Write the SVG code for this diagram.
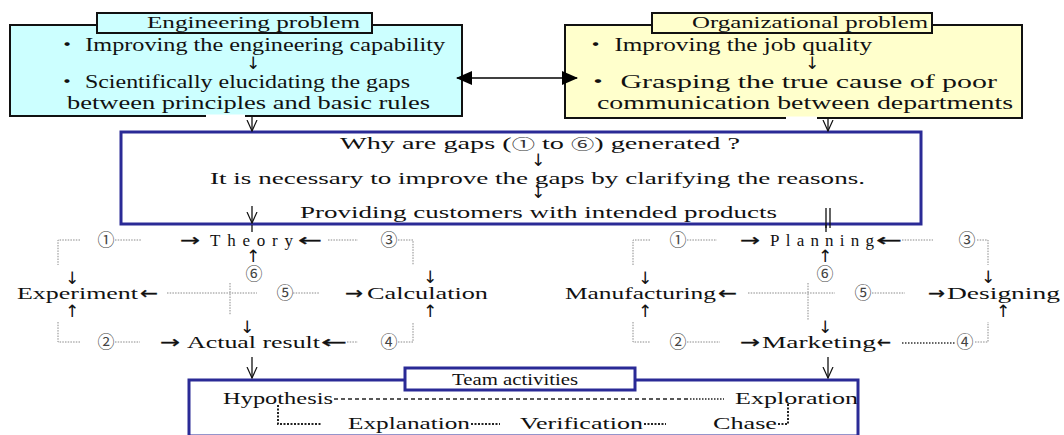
<svg xmlns="http://www.w3.org/2000/svg" width="1064" height="435" viewBox="0 0 1064 435">
<defs>
<style>
.t{font-family:"Liberation Serif","DejaVu Serif","Noto Sans CJK JP",serif;fill:#111}
.b{font-size:18px}
.m{font-size:16px}
.c{font-size:17px}
.n{font-family:"Noto Sans CJK JP","DejaVu Sans",sans-serif;font-size:17px;fill:#444}
.a{font-family:"DejaVu Sans",sans-serif;font-size:17px;fill:#111}
.ah{font-family:"DejaVu Sans",sans-serif;font-size:17px;fill:#111;stroke:#111;stroke-width:0.3}
.dot{fill:none;stroke:#8a8a8a;stroke-width:1;stroke-dasharray:1.5 1.2}
.dk{fill:none;stroke:#222;stroke-width:2;stroke-dasharray:2 1.5}
.ln{fill:none;stroke:#111;stroke-width:1.3}
.blue{fill:#fff;stroke:#2a2a96;stroke-width:3}
</style>
<marker id="ah" markerWidth="16" markerHeight="14" refX="15" refY="7" orient="auto-start-reverse" markerUnits="userSpaceOnUse" viewBox="0 0 16 14">
<path d="M0,0 L16,7 L0,14 z" fill="#000"/>
</marker>
<marker id="vh" markerWidth="12" markerHeight="12" refX="11" refY="6" orient="auto" markerUnits="userSpaceOnUse" viewBox="0 0 12 12">
<path d="M0,1 L11,6 L0,11" fill="none" stroke="#111" stroke-width="1.2"/>
</marker>
</defs>
<rect width="1064" height="435" fill="#fff"/>

<g id="engineering">
<rect x="10" y="25" width="452" height="91" fill="#ccffff" stroke="#111" stroke-width="2"/>
<line x1="206" y1="116" x2="245" y2="116" stroke="#fff" stroke-width="3"/>
<rect x="97" y="13" width="275" height="20" fill="#ccffff" stroke="#111" stroke-width="2"/>
<text class="t m" x="147" y="28" textLength="213" lengthAdjust="spacingAndGlyphs">Engineering problem</text>
<text class="t b" x="55" y="51" textLength="390" lengthAdjust="spacingAndGlyphs">・ Improving the engineering capability</text>
<text class="a" x="253" y="69" text-anchor="middle" font-size="14">↓</text>
<text class="t b" x="55" y="88" textLength="355" lengthAdjust="spacingAndGlyphs">・ Scientifically elucidating the gaps</text>
<text class="t b" x="67" y="109" textLength="363" lengthAdjust="spacingAndGlyphs">between principles and basic rules</text>
</g>

<g id="organizational">
<rect x="565" y="25" width="457" height="93" fill="#ffffcc" stroke="#111" stroke-width="2"/>
<line x1="786" y1="118" x2="817" y2="118" stroke="#fff" stroke-width="3"/>
<rect x="652" y="13" width="280" height="20" fill="#ffffcc" stroke="#111" stroke-width="2"/>
<text class="t m" x="692" y="28" textLength="236" lengthAdjust="spacingAndGlyphs">Organizational problem</text>
<text class="t b" x="583" y="51" textLength="289" lengthAdjust="spacingAndGlyphs">・ Improving the job quality</text>
<text class="a" x="812" y="69" text-anchor="middle" font-size="14">↓</text>
<text class="t b" x="583" y="88" textLength="414" lengthAdjust="spacingAndGlyphs">・ Grasping the true cause of poor</text>
<text class="t b" x="597" y="109" textLength="416" lengthAdjust="spacingAndGlyphs">communication between departments</text>
</g>

<g id="reasons">
<rect class="blue" x="121" y="132" width="800" height="92"/>
<text class="t c" x="340" y="149" textLength="400" lengthAdjust="spacingAndGlyphs">Why are gaps (<tspan font-size="14" fill="#333">①</tspan> to <tspan font-size="14" fill="#333">⑥</tspan>) generated ?</text>
<text class="a" x="538" y="166" text-anchor="middle" font-size="12">↓</text>
<text class="t c" x="210" y="184" textLength="655" lengthAdjust="spacingAndGlyphs">It is necessary to improve the gaps by clarifying the reasons.</text>
<text class="a" x="538" y="198" text-anchor="middle" font-size="12">↓</text>
<text class="t c" x="300" y="218" textLength="477" lengthAdjust="spacingAndGlyphs">Providing customers with intended products</text>
</g>

<g id="cycle-engineering">
<text class="n" x="106" y="246" text-anchor="middle">①</text>
<text class="ah" x="180" y="246" textLength="20" lengthAdjust="spacingAndGlyphs">→</text>
<text class="t c" x="210" y="246" textLength="83" lengthAdjust="spacing">Theory</text>
<text class="ah" x="298" y="246" textLength="24" lengthAdjust="spacingAndGlyphs">←</text>
<text class="n" x="389" y="246" text-anchor="middle">③</text>
<text class="a" x="253" y="262" text-anchor="middle" font-size="15">↑</text>
<text class="n" x="254" y="280" text-anchor="middle" font-size="16">⑥</text>
<text class="a" x="72" y="284" text-anchor="middle">↓</text>
<text class="t c" x="17" y="299" textLength="121" lengthAdjust="spacingAndGlyphs">Experiment</text>
<text class="ah" x="140" y="299" textLength="18" lengthAdjust="spacingAndGlyphs">←</text>
<text class="n" x="285" y="299" text-anchor="middle">⑤</text>
<text class="ah" x="345" y="299" textLength="18" lengthAdjust="spacingAndGlyphs">→</text>
<text class="t c" x="367" y="299" textLength="121" lengthAdjust="spacingAndGlyphs">Calculation</text>
<text class="a" x="430" y="283" text-anchor="middle">↓</text>
<text class="a" x="430" y="317" text-anchor="middle">↑</text>
<text class="a" x="72" y="317" text-anchor="middle">↑</text>
<text class="a" x="247" y="333" text-anchor="middle">↓</text>
<text class="n" x="106" y="348" text-anchor="middle">②</text>
<text class="ah" x="160" y="348" textLength="20" lengthAdjust="spacingAndGlyphs">→</text>
<text class="t c" x="187" y="348" textLength="133" lengthAdjust="spacingAndGlyphs">Actual result</text>
<text class="ah" x="321" y="348" textLength="26" lengthAdjust="spacingAndGlyphs">←</text>
<text class="n" x="389" y="348" text-anchor="middle">④</text>
</g>

<g id="cycle-organizational">
<text class="n" x="678" y="246" text-anchor="middle">①</text>
<text class="ah" x="740" y="246" textLength="20" lengthAdjust="spacingAndGlyphs">→</text>
<text class="t c" x="770" y="246" textLength="104" lengthAdjust="spacing">Planning</text>
<text class="ah" x="876" y="246" textLength="26" lengthAdjust="spacingAndGlyphs">←</text>
<text class="n" x="967" y="246" text-anchor="middle">③</text>
<text class="a" x="825" y="262" text-anchor="middle" font-size="15">↑</text>
<text class="n" x="825" y="280" text-anchor="middle" font-size="16">⑥</text>
<text class="a" x="645" y="284" text-anchor="middle">↓</text>
<text class="t c" x="565" y="299" textLength="151" lengthAdjust="spacingAndGlyphs">Manufacturing</text>
<text class="ah" x="718" y="299" textLength="19" lengthAdjust="spacingAndGlyphs">←</text>
<text class="n" x="863" y="299" text-anchor="middle">⑤</text>
<text class="ah" x="928" y="299" textLength="17" lengthAdjust="spacingAndGlyphs">→</text>
<text class="t c" x="947" y="299" textLength="113" lengthAdjust="spacingAndGlyphs">Designing</text>
<text class="a" x="988" y="283" text-anchor="middle">↓</text>
<text class="a" x="1003" y="317" text-anchor="middle">↑</text>
<text class="a" x="645" y="317" text-anchor="middle">↑</text>
<text class="a" x="825" y="333" text-anchor="middle">↓</text>
<text class="n" x="678" y="348" text-anchor="middle">②</text>
<text class="ah" x="740" y="348" textLength="20" lengthAdjust="spacingAndGlyphs">→</text>
<text class="t c" x="762" y="348" textLength="114" lengthAdjust="spacingAndGlyphs">Marketing</text>
<text class="ah" x="877" y="348" textLength="14" lengthAdjust="spacingAndGlyphs">←</text>
<text class="n" x="965" y="348" text-anchor="middle">④</text>
</g>

<g id="team">
<rect class="blue" x="189" y="380" width="669" height="56"/>
<rect class="blue" x="405" y="368" width="230" height="22" stroke-width="2.5"/>
<text class="t c" x="452" y="385" textLength="126" lengthAdjust="spacingAndGlyphs">Team activities</text>
<text class="t c" x="223" y="404" textLength="110" lengthAdjust="spacingAndGlyphs">Hypothesis</text>
<text class="t c" x="735" y="404" textLength="123" lengthAdjust="spacingAndGlyphs">Exploration</text>
<text class="t c" x="348" y="429" textLength="122" lengthAdjust="spacingAndGlyphs">Explanation</text>
<text class="t c" x="520" y="429" textLength="123" lengthAdjust="spacingAndGlyphs">Verification</text>
<text class="t c" x="713" y="429" textLength="64" lengthAdjust="spacingAndGlyphs">Chase</text>
</g>

<g id="connectors">
<line x1="457" y1="78" x2="577" y2="78" stroke="#000" stroke-width="1.5" marker-start="url(#ah)" marker-end="url(#ah)"/>
<path class="ln" d="M252,117 V131" marker-end="url(#vh)"/>
<path class="ln" d="M828,119 V131" marker-end="url(#vh)"/>
<path class="ln" d="M252,206 V223" marker-end="url(#vh)"/>
<path class="ln" d="M826,208 V228 M830,208 V228"/>
<path class="ln" d="M252,225 V232 M826,225 V232"/>
<path class="ln" d="M252,357 V378" marker-end="url(#vh)"/>
<path class="ln" d="M828,357 V378" marker-end="url(#vh)"/>
<path class="dot" d="M80,240 H58 V265 M115,240 H142 M328,240 H358 M398,240 H413 V265"/>
<path class="dot" d="M167,293 H257 M230,283 V315 M293,293 H320"/>
<path class="dot" d="M58,322 V342 H80 M115,342 H140 M347,342 H358 M398,342 H413 V322"/>
<path class="dot" d="M650,240 H633 V265 M687,240 H717 M902,240 H933 M977,240 H988 V265"/>
<path class="dot" d="M748,293 H835 M808,283 V320 M872,293 H905"/>
<path class="dot" d="M633,322 V342 H650 M687,342 H720 M975,342 H988 V322"/>
<path fill="none" stroke="#333" stroke-width="1.5" stroke-dasharray="1.5 1.5" d="M902,343 H955"/>
<path fill="none" stroke="#222" stroke-width="1.5" stroke-dasharray="4 3" d="M334,399 H690"/>
<path fill="none" stroke="#222" stroke-width="1.5" stroke-dasharray="1.5 1.5" d="M690,399 H724"/>
<path class="dk" d="M278,405 V424 H322 M471,424 H500 M644,424 H666 M778,424 H788 V404"/>
</g>
</svg>
